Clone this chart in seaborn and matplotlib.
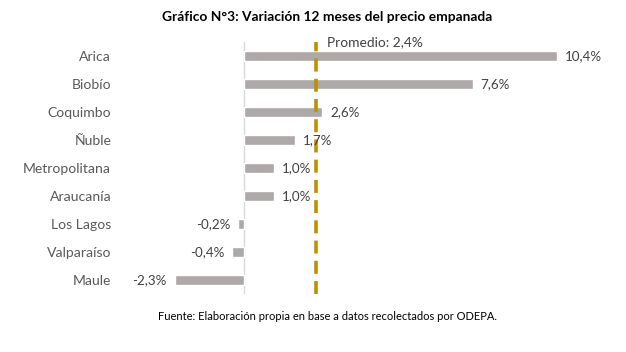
import matplotlib
matplotlib.use("Agg")
import matplotlib.pyplot as plt
import seaborn as sns
import pandas as pd

regions = ["Arica", "Biobío", "Coquimbo", "Ñuble", "Metropolitana", "Araucanía", "Los Lagos", "Valparaíso", "Maule"]
values = [10.4, 7.6, 2.6, 1.7, 1.0, 1.0, -0.2, -0.4, -2.3]
labels = ["10,4%", "7,6%", "2,6%", "1,7%", "1,0%", "1,0%", "-0,2%", "-0,4%", "-2,3%"]
promedio = 2.4
promedio_label = "Promedio: 2,4%"
title = "Gráfico N°3: Variación 12 meses del precio empanada"
source = "Fuente: Elaboración propia en base a datos recolectados por ODEPA."

sns.set_theme(style="white")
plt.rcParams['font.family'] = ['Lato', 'DejaVu Sans']

df = pd.DataFrame({"region": regions, "valor": values})

fig = plt.figure(figsize=(6.26, 3.52), dpi=100)
W, H = 626, 352
ax = fig.add_axes([130 / W, 1 - 294 / H, (610 - 130) / W, (294 - 42) / H])

sns.barplot(data=df, x="valor", y="region", orient="h", color="#ADA9A9",
            saturation=1, width=0.36, ax=ax)

ax.set_xlim((130 - 244) / 30.1, (610 - 244) / 30.1)
ax.set_ylim(8.5, -0.5)
ax.axvline(0, color="#D9D9D9", lw=1, zorder=0)
ax.axvline(promedio, color="#BF9000", lw=2.6, ls=(0, (3.6, 2.0)), zorder=3)

for i, (v, lab) in enumerate(zip(values, labels)):
    if v >= 0:
        ax.text(v + 0.26, i, lab, ha="left", va="center", fontsize=9.6, color="#404040")
    else:
        ax.text(v - 0.26, i, lab, ha="right", va="center", fontsize=9.6, color="#404040")

ax.text(promedio + 0.36, -0.5, promedio_label, ha="left", va="center", fontsize=9.9,
        color="#404040", clip_on=False)

ax.set_xlabel("")
ax.set_ylabel("")
ax.set_xticks([])
ax.tick_params(axis="y", length=0, pad=13.5, labelsize=10.1, labelcolor="#595959")
for s in ax.spines.values():
    s.set_visible(False)

fig.text(327 / W, 1 - 17 / H, title, ha="center", va="center", fontsize=9.9, fontweight="bold", color="black")
fig.text(327 / W, 1 - 316 / H, source, ha="center", va="center", fontsize=8.0, color="black")

fig.savefig("out.png", dpi=100)
